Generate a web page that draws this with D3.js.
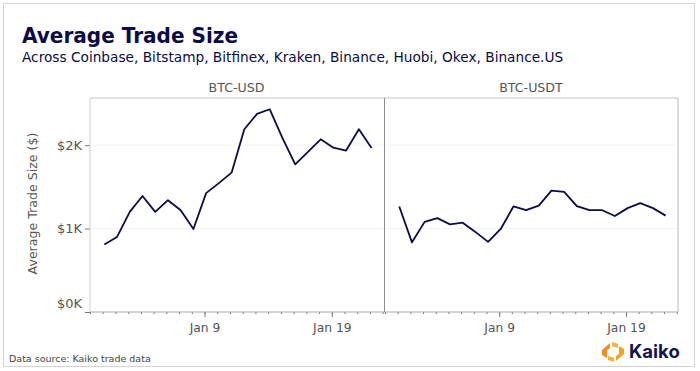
<!DOCTYPE html>
<html>
<head>
<meta charset="utf-8">
<script src="https://cdn.jsdelivr.net/npm/d3@7"></script>
<style>
html, body { margin: 0; padding: 0; background: #fff; }
svg { display: block; }
text { font-family: "DejaVu Sans", sans-serif; }
</style>
</head>
<body>
<div id="chart"></div>
<script>
const days = d3.range(1, 23).map(d => new Date(Date.UTC(2020, 0, d, 3)))
const usdValues = [810, 900, 1200, 1390, 1200, 1340, 1220, 995, 1425, 1545, 1670, 2190, 2375, 2430, 2085, 1770, 1920, 2070, 1970, 1935, 2190, 1965]
const usdtValues = [1265, 835, 1080, 1125, 1050, 1070, 960, 840, 995, 1265, 1220, 1275, 1455, 1440, 1270, 1220, 1220, 1150, 1245, 1305, 1245, 1155]
const panels = [
    {name: "BTC-USD", values: usdValues, left: 90, right: 384},
    {name: "BTC-USDT", values: usdtValues, left: 385, right: 678}
]
const yTicks = [0, 1000, 2000]
const labelDays = [new Date(Date.UTC(2020, 0, 9)), new Date(Date.UTC(2020, 0, 19))]

const top_ = 98, bottom = 312
const navy = "#0b0b45", grey = "#555"

const svg = d3.select("#chart").append("svg")
    .attr("width", 700)
    .attr("height", 371)

svg.append("rect")
    .attr("x", 3.5).attr("y", 3.5)
    .attr("width", 691).attr("height", 363)
    .attr("fill", "#fff")
    .attr("stroke", "#d4d4d4")
    .attr("stroke-width", 1)

svg.append("text")
    .attr("x", 22).attr("y", 42.5)
    .attr("font-size", 21.5).attr("font-weight", "bold")
    .attr("textLength", 216).attr("lengthAdjust", "spacingAndGlyphs")
    .attr("fill", navy)
    .text("Average Trade Size")
svg.append("text")
    .attr("x", 22).attr("y", 61.5)
    .attr("font-size", 13.7)
    .attr("fill", navy)
    .text("Across Coinbase, Bitstamp, Bitfinex, Kraken, Binance, Huobi, Okex, Binance.US")

let y = d3.scaleLinear()
    .domain([0, 2565])
    .range([bottom, top_])

// gridlines and strip per panel
panels.forEach(p => {
    let x = d3.scaleUtc()
        .domain([new Date(Date.UTC(2019, 11, 31)), new Date(Date.UTC(2020, 0, 23, 2, 24))])
        .range([p.left, p.right])

    let g = svg.append("g")

    g.selectAll("line.grid")
        .data(yTicks.slice(1))
        .enter().append("line")
        .attr("class", "grid")
        .attr("x1", p.left + 1).attr("x2", p.right - 1)
        .attr("y1", d => y(d)).attr("y2", d => y(d))
        .attr("stroke", "#f3f3f3").attr("stroke-width", 1)

    // minor ticks, one a day
    let minor = d3.axisBottom(x)
        .ticks(d3.utcDay.every(1))
        .tickSize(2)
        .tickFormat("")
    let minorG = g.append("g")
        .attr("transform", "translate(0," + bottom + ")")
        .call(minor)
    minorG.select(".domain").remove()
    minorG.selectAll("line").attr("stroke", "#777")

    let major = d3.axisBottom(x)
        .tickValues(labelDays)
        .tickSize(5)
        .tickPadding(6)
        .tickFormat(d3.utcFormat("%b %-d"))
    let majorG = g.append("g")
        .attr("transform", "translate(0," + bottom + ")")
        .call(major)
    majorG.select(".domain").remove()
    majorG.selectAll("line").attr("stroke", "#777")
    majorG.selectAll("text")
        .attr("font-size", 12.3).attr("fill", grey)
        .style("font-family", '"DejaVu Sans", sans-serif')

    g.append("text")
        .attr("x", (p.left + p.right) / 2 - 0.5).attr("y", 92)
        .attr("text-anchor", "middle")
        .attr("font-size", 12.6).attr("fill", grey)
        .text(p.name)

    let line = d3.line()
        .x((d, i) => x(days[i]))
        .y(d => y(d))
    g.append("path")
        .datum(p.values)
        .attr("d", line)
        .attr("fill", "none")
        .attr("stroke", navy)
        .attr("stroke-width", 1.8)
        .attr("stroke-linejoin", "round")
})

// y axis on the left panel
let yAxis = svg.append("g")
    .attr("transform", "translate(90,0)")
    .call(d3.axisLeft(y).tickValues(yTicks).tickSize(5).tickPadding(3)
        .tickFormat(d => "$" + d / 1000 + "K"))
yAxis.select(".domain").remove()
yAxis.selectAll("line").attr("stroke", "#777")
yAxis.selectAll("text")
    .attr("font-size", 13).attr("fill", grey)
    .style("font-family", '"DejaVu Sans", sans-serif')
yAxis.selectAll(".tick").filter(d => d === 0).select("text").attr("dy", "-0.35em")

svg.append("text")
    .attr("transform", "translate(37,203.5) rotate(-90)")
    .attr("text-anchor", "middle")
    .attr("font-size", 12.6).attr("fill", grey)
    .text("Average Trade Size ($)")

// panel frame
let frame = [
    [90, top_, 678, top_, "#c4c4c4"],
    [90, top_, 90, bottom, "#cfcfcf"],
    [90, bottom, 678, bottom, "#a8a8a8"],
    [678, top_, 678, bottom, "#b8b8b8"],
    [384.5, top_, 384.5, bottom, "#8e8e8e"]
]
svg.selectAll("line.frame")
    .data(frame)
    .enter().append("line")
    .attr("class", "frame")
    .attr("x1", d => d[0]).attr("y1", d => d[1])
    .attr("x2", d => d[2]).attr("y2", d => d[3])
    .attr("stroke", d => d[4])

svg.append("text")
    .attr("x", 9).attr("y", 362)
    .attr("font-size", 9.5).attr("fill", "#444")
    .text("Data source: Kaiko trade data")

// logo
let logo = svg.append("g").attr("transform", "translate(613,352)")
let logoParts = [
    ["M-1,-10 L5,-8 L5,-4 L0,-5.5 L-1,-5 Z", "#fbb03b"],
    ["M-3,-9 L-11,-2 L-11,3 L-6,6 L-6,-2 L-3,-4 Z", "#f58a1f"],
    ["M1,10 L-5,8 L-5,4 L0,5.5 L1,5 Z", "#fbb03b"],
    ["M3,9 L11,2 L11,-3 L6,-6 L6,2 L3,4 Z", "#f9a11b"]
]
logo.selectAll("path")
    .data(logoParts)
    .enter().append("path")
    .attr("d", d => d[0])
    .attr("fill", d => d[1])

svg.append("text")
    .attr("x", 629).attr("y", 358)
    .attr("font-size", 18.5).attr("font-weight", "bold")
    .attr("fill", "#14154f")
    .style("font-family", "Inter, sans-serif")
    .text("Kaiko")
</script>
</body>
</html>
